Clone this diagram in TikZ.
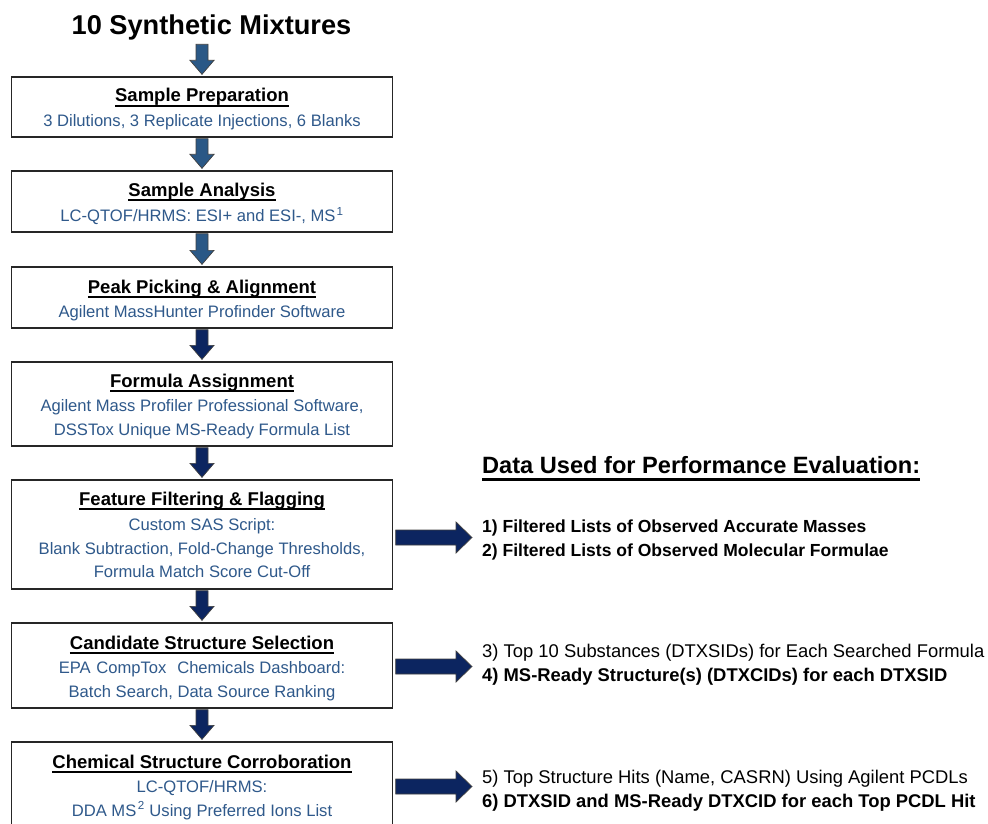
\documentclass[tikz,border=0pt]{standalone}
\usepackage{fontspec}
\setmainfont{Liberation Sans}
\usetikzlibrary{calc}
\definecolor{txtblue}{RGB}{47,89,139}
\definecolor{steel}{RGB}{42,88,134}
\definecolor{navy}{RGB}{12,37,96}
\newcommand\ulbox[3]{\setbox0\hbox{#3}\rlap{\vrule width\wd0 height -#1 depth #2}\box0}
\newcommand\dnarrow[4][1pt]{%
  \filldraw[blockarrow, fill=#4] let \p1=(#2.south), \p2=(#3.north) in
   (\x2-6pt,\y1-#1) -- (\x2+6pt,\y1-#1) -- (\x2+6pt,\y2+16pt) -- (\x2+12pt,\y2+16pt)
   -- (\x2,\y2+2pt) -- (\x2-12pt,\y2+16pt) -- (\x2-6pt,\y2+16pt) -- cycle;}
\newcommand\rtarrow[2]{%
  \filldraw[blockarrow, fill=navy] let \p1=(#1.east), \p2=(#2) in
   (\x1+2.5pt,\y2+7.5pt) -- (\x2-16pt,\y2+7.5pt) -- (\x2-16pt,\y2+15.5pt) -- (\x2,\y2)
   -- (\x2-16pt,\y2-15.5pt) -- (\x2-16pt,\y2-7.5pt) -- (\x1+2.5pt,\y2-7.5pt) -- cycle;}
\begin{document}
\begin{tikzpicture}[x=1pt,y=-1pt,
  box/.style={draw=black!85, line width=1.3pt, minimum width=381pt, inner sep=0pt},
  btitle/.style={anchor=base, inner sep=0pt, font=\bfseries\fontsize{18.5}{22}\selectfont},
  bsub/.style={anchor=base, inner sep=0pt, text=txtblue, font=\fontsize{16.6}{20}\selectfont},
  rbold/.style={anchor=base west, inner sep=0pt, font=\bfseries\fontsize{18.4}{22}\selectfont},
  rreg/.style={anchor=base west, inner sep=0pt, font=\fontsize{18.4}{22}\selectfont},
  blockarrow/.style={draw=black!75, line width=0.7pt, line join=miter}]
\path[use as bounding box, fill=white] (0,0) rectangle (988,824);

% title
\node[anchor=base, inner sep=0pt, font=\bfseries\fontsize{27.2}{31}\selectfont] (title) at (211.5,35) {10 Synthetic Mixtures};

% boxes
\node[box, minimum height=60pt] (b1) at (202,107) {};
\node[box, minimum height=61pt] (b2) at (202,201.5) {};
\node[box, minimum height=61pt] (b3) at (202,297.5) {};
\node[box, minimum height=84pt] (b4) at (202,404) {};
\node[box, minimum height=109pt] (b5) at (202,534.5) {};
\node[box, minimum height=85pt] (b6) at (202,665.5) {};
\node[box, minimum height=85pt] (b7) at (202,784.5) {};

% box texts
\node[btitle] (b1t) at (202,102) {\ulbox{2.8pt}{4.6pt}{Sample Preparation}};
\node[bsub] (b1a) at (202,127) {3 Dilutions, 3 Replicate Injections, 6 Blanks};

\node[btitle] (b2t) at (202,196.5) {\ulbox{2.8pt}{4.6pt}{Sample Analysis}};
\node[bsub] (b2a) at (202,221.5) {LC-QTOF/HRMS: ESI+ and ESI-, MS\kern1pt\textsuperscript{1}};

\node[btitle] (b3t) at (202,293) {\ulbox{2.8pt}{4.6pt}{Peak Picking \& Alignment}};
\node[bsub] (b3a) at (202,317) {Agilent MassHunter Profinder Software};

\node[btitle] (b4t) at (202,387) {\ulbox{2.8pt}{4.6pt}{Formula Assignment}};
\node[bsub] (b4a) at (202,411) {Agilent Mass Profiler Professional Software,};
\node[bsub] (b4b) at (202,435) {DSSTox Unique MS-Ready Formula List};

\node[btitle] (b5t) at (202,505) {\ulbox{2.8pt}{4.6pt}{Feature Filtering \& Flagging}};
\node[bsub] (b5a) at (202,530) {Custom SAS Script:};
\node[bsub] (b5b) at (202,554) {Blank Subtraction, Fold-Change Thresholds,};
\node[bsub] (b5c) at (202,577.5) {Formula Match Score Cut-Off};

\node[btitle] (b6t) at (202,649) {\ulbox{2.8pt}{4.6pt}{Candidate Structure Selection}};
\node[bsub] (b6a) at (202,673.5) {EPA\kern1pt\ CompTox\hspace{0.65em}Chemicals Dashboard:};
\node[bsub] (b6b) at (202,697.5) {Batch Search, Data Source Ranking};

\node[btitle] (b7t) at (202,768) {\ulbox{2.8pt}{4.6pt}{Chemical Structure Corroboration}};
\node[bsub] (b7a) at (202,792) {LC-QTOF/HRMS:};
\node[bsub] (b7b) at (202,816) {DDA MS\kern1.5pt\textsuperscript{2} Using Preferred Ions List};

% right side
\node[anchor=base west, inner sep=0pt, font=\bfseries\fontsize{23.6}{28}\selectfont] (hdr) at (482,473) {\ulbox{5pt}{7.6pt}{Data Used for Performance Evaluation:}};
\node[rbold, font=\bfseries\fontsize{17.5}{21}\selectfont] (r1) at (482,532) {1) Filtered Lists of Observed Accurate Masses};
\node[rbold, font=\bfseries\fontsize{17.5}{21}\selectfont] (r2) at (482,556) {2) Filtered Lists of Observed Molecular Formulae};
\node[rreg] (r3) at (482,657) {3) Top 10 Substances (DTXSIDs) for Each Searched Formula};
\node[rbold] (r4) at (482,681.5) {4) MS-Ready Structure(s) (DTXCIDs) for each DTXSID};
\node[rreg] (r5) at (482,783) {5) Top Structure Hits (Name, CASRN) Using Agilent PCDLs};
\node[rbold] (r6) at (482,807) {6) DTXSID and MS-Ready DTXCID for each Top PCDL Hit};

\coordinate (t5) at (472,537.5);
\coordinate (t6) at (472,666.5);
\coordinate (t7) at (472,786.5);

% down arrows
\dnarrow[3.5pt]{title}{b1}{steel}
\dnarrow{b1}{b2}{steel}
\dnarrow{b2}{b3}{steel}
\dnarrow{b3}{b4}{navy}
\dnarrow{b4}{b5}{navy}
\dnarrow{b5}{b6}{navy}
\dnarrow{b6}{b7}{navy}

% right arrows
\rtarrow{b5}{t5}
\rtarrow{b6}{t6}
\rtarrow{b7}{t7}
\end{tikzpicture}
\end{document}
